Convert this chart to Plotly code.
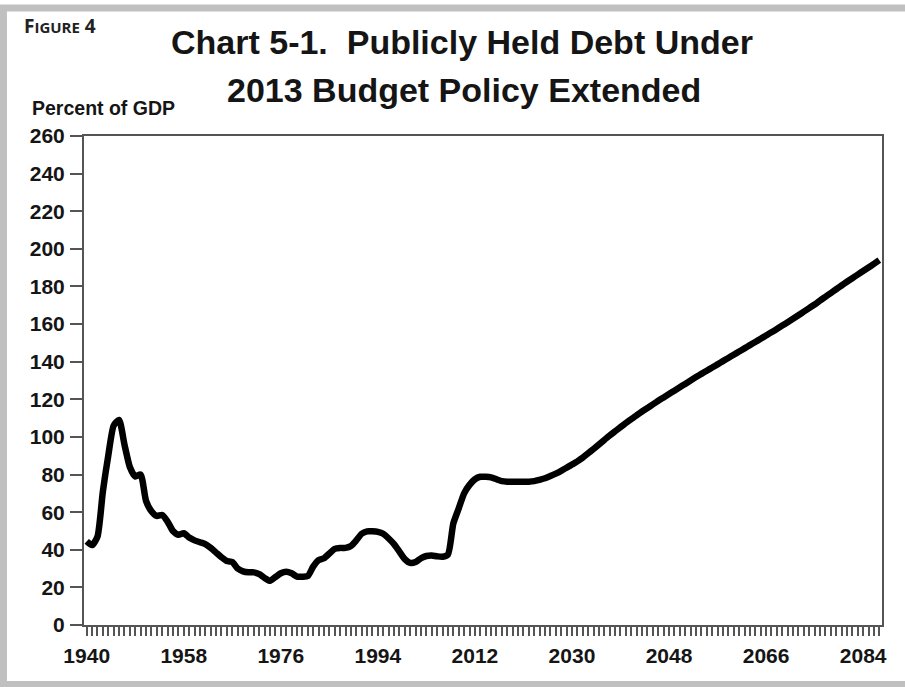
import plotly.graph_objects as go

# ---- data (percent of GDP) ----
years = list(range(1940, 2088))
debt_pct_gdp = [
    44.5, 42.5, 47.0, 71.0, 90.0, 106.0, 109.0, 96.0, 84.0, 79.0,      # 1940-1949
    80.0, 66.0, 60.5, 58.0, 58.5, 55.0, 50.0, 48.0, 48.8, 46.5,        # 1950-1959
    45.0, 44.0, 43.0, 41.0, 38.5, 36.0, 34.0, 33.5, 30.0, 28.5,        # 1960-1969
    28.0, 28.0, 27.0, 25.0, 23.5, 25.5, 27.5, 28.3, 27.5, 25.7,        # 1970-1979
    25.7, 26.0, 31.0, 34.5, 35.5, 38.0, 40.5, 41.0, 41.0, 42.0,        # 1980-1989
    45.0, 48.5, 49.8, 49.8, 49.5, 48.5, 46.0, 43.0, 39.0, 35.0,        # 1990-1999
    33.0, 33.5, 35.5, 36.7, 37.0, 36.5, 36.3, 37.5, 54.0, 62.0,        # 2000-2009
    70.0, 74.5, 77.5, 78.8, 78.8, 78.5, 77.5, 76.5, 76.2, 76.2,        # 2010-2019
    76.2, 76.2, 76.2, 76.5, 77.2, 78.0, 79.2, 80.5, 82.0, 83.6,        # 2020-2029
    85.3, 87.0, 89.0, 91.3, 93.6, 96.0, 98.4, 100.8, 103.0, 105.2,     # 2030-2039
    107.4, 109.5, 111.5, 113.5, 115.4, 117.3, 119.2, 121.0, 122.8, 124.6,  # 2040-2049
    126.4, 128.2, 130.0, 131.8, 133.5, 135.2, 136.9, 138.6, 140.3, 142.0,  # 2050-2059
    143.7, 145.4, 147.1, 148.8, 150.5, 152.2, 153.9, 155.6, 157.4, 159.2,  # 2060-2069
    161.0, 162.8, 164.7, 166.6, 168.5, 170.4, 172.5, 174.5, 176.5, 178.5,  # 2070-2079
    180.5, 182.5, 184.4, 186.3, 188.2, 190.1, 192.0, 194.0,                # 2080-2087
]
x_label_years = [1940, 1958, 1976, 1994, 2012, 2030, 2048, 2066, 2084]
y_ticks = list(range(0, 261, 20))

title_line1 = "Chart 5-1.  Publicly Held Debt Under"
title_line2 = "2013 Budget Policy Extended"
y_axis_title = "Percent of GDP"
figure_label = "F<span style='font-size:15px'>IGURE</span> 4"

FONT = "Liberation Sans, Arial, Helvetica, sans-serif"
INK = "#151515"
AXIS = "#555555"

fig = go.Figure()
fig.add_trace(go.Scatter(
    x=years, y=debt_pct_gdp, mode="lines",
    line=dict(color="#000000", width=6.5, shape="spline", smoothing=0.6),
    hoverinfo="x+y", showlegend=False,
))

tick_text = [str(y) if y in x_label_years else "" for y in years]

fig.update_layout(
    width=905, height=687,
    margin=dict(l=84, r=23, t=136, b=62),
    paper_bgcolor="white", plot_bgcolor="white",
    xaxis=dict(
        range=[1939.5, 2087.5],
        tickmode="array", tickvals=years, ticktext=tick_text,
        ticks="outside", ticklen=9, tickwidth=1.5, tickcolor=AXIS,
        showline=True, linecolor=AXIS, linewidth=2, mirror=True,
        showgrid=False, zeroline=False,
        tickfont=dict(family=FONT, size=21, color=INK, weight="bold"),
        ticklabelstandoff=2,
    ),
    yaxis=dict(
        range=[0, 260],
        tickmode="array", tickvals=y_ticks,
        ticks="outside", ticklen=12, tickwidth=2, tickcolor=AXIS,
        showline=True, linecolor=AXIS, linewidth=2, mirror=True,
        showgrid=False, zeroline=False,
        tickfont=dict(family=FONT, size=21, color=INK, weight="bold"),
        ticklabelstandoff=1,
    ),
)

# gray frame around the whole figure
fig.add_shape(type="rect", xref="paper", yref="paper",
              x0=-0.1009, x1=1.12, y0=-0.1217, y1=1.2618,
              line=dict(color="#c0c0c0", width=7), fillcolor="rgba(0,0,0,0)",
              layer="below")

fig.add_annotation(text=title_line1, xref="paper", yref="paper",
                   x=0.474, y=1.192, xanchor="center", yanchor="middle",
                   showarrow=False,
                   font=dict(family=FONT, size=34, color=INK, weight="bold"))
fig.add_annotation(text=title_line2, xref="paper", yref="paper",
                   x=0.476, y=1.094, xanchor="center", yanchor="middle",
                   showarrow=False,
                   font=dict(family=FONT, size=34, color=INK, weight="bold"))
fig.add_annotation(text=y_axis_title, xref="paper", yref="paper",
                   x=-0.0677, y=1.057, xanchor="left", yanchor="middle",
                   showarrow=False,
                   font=dict(family=FONT, size=19.5, color=INK, weight="bold"))
fig.add_annotation(text=figure_label, xref="paper", yref="paper",
                   x=-0.0777, y=1.225, xanchor="left", yanchor="middle",
                   showarrow=False,
                   font=dict(family="Open Sans, Lato, sans-serif", size=19, color="#222222", weight="bold"))

# the page's default body margin would shift the figure by 8px; remove it
fig.write_html("out.html", config={"displayModeBar": False},
               post_script="document.body.style.margin='0px';")
